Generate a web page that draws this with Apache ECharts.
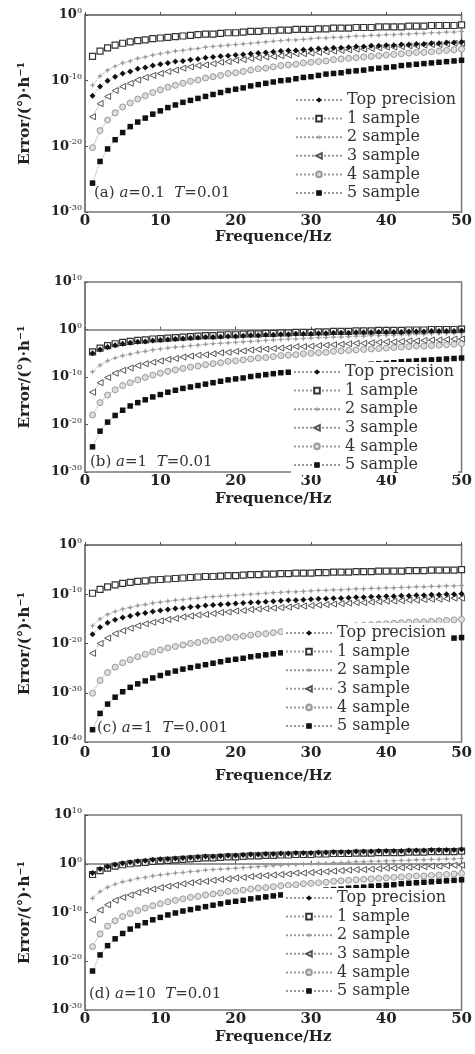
<!DOCTYPE html>
<html><head><meta charset="utf-8">
<script src="https://cdn.jsdelivr.net/npm/echarts@6/dist/echarts.min.js"></script>
<style>html,body{margin:0;padding:0;background:#fff}#c{width:475px;height:1054px}</style>
</head><body><div id="c"></div>
<script>
// Frequencies (Hz)
const FREQ = [1,2,3,4,5,6,7,8,9,10,11,12,13,14,15,16,17,18,19,20,21,22,23,24,25,26,27,28,29,30,31,32,33,34,35,36,37,38,39,40,41,42,43,44,45,46,47,48,49,50];
const SERIES_NAMES = ['Top precision','1 sample','2 sample','3 sample','4 sample','5 sample'];
// values are log10 of error

// (a) a=0.1 T=0.01
const A_TOP = [-12.3,-10.9,-10.0,-9.4,-8.9,-8.6,-8.2,-8.0,-7.7,-7.5,-7.3,-7.1,-7.0,-6.8,-6.7,-6.5,-6.4,-6.3,-6.2,-6.1,-6.0,-5.9,-5.8,-5.7,-5.6,-5.5,-5.4,-5.4,-5.3,-5.2,-5.1,-5.1,-5.0,-5.0,-4.9,-4.8,-4.8,-4.7,-4.7,-4.6,-4.6,-4.5,-4.5,-4.4,-4.4,-4.3,-4.3,-4.2,-4.2,-4.1];
const A_S1 = [-6.3,-5.5,-5.0,-4.6,-4.3,-4.1,-3.9,-3.8,-3.6,-3.5,-3.4,-3.3,-3.2,-3.1,-3.0,-2.9,-2.9,-2.8,-2.7,-2.7,-2.6,-2.5,-2.5,-2.4,-2.4,-2.3,-2.3,-2.2,-2.2,-2.2,-2.1,-2.1,-2.0,-2.0,-2.0,-1.9,-1.9,-1.9,-1.8,-1.8,-1.8,-1.8,-1.7,-1.7,-1.7,-1.6,-1.6,-1.6,-1.6,-1.5];
const A_S2 = [-10.7,-9.3,-8.4,-7.8,-7.3,-7.0,-6.6,-6.4,-6.1,-5.9,-5.7,-5.5,-5.4,-5.2,-5.1,-4.9,-4.8,-4.7,-4.6,-4.5,-4.4,-4.3,-4.2,-4.1,-4.0,-3.9,-3.8,-3.8,-3.7,-3.6,-3.5,-3.5,-3.4,-3.4,-3.3,-3.2,-3.2,-3.1,-3.1,-3.0,-3.0,-2.9,-2.9,-2.8,-2.8,-2.7,-2.7,-2.6,-2.6,-2.5];
const A_S3 = [-15.5,-13.5,-12.4,-11.5,-10.9,-10.4,-9.9,-9.5,-9.2,-8.9,-8.6,-8.4,-8.1,-7.9,-7.7,-7.6,-7.4,-7.2,-7.1,-6.9,-6.8,-6.6,-6.5,-6.4,-6.3,-6.2,-6.1,-5.9,-5.9,-5.8,-5.7,-5.6,-5.5,-5.4,-5.3,-5.2,-5.2,-5.1,-5.0,-4.9,-4.9,-4.8,-4.7,-4.7,-4.6,-4.5,-4.5,-4.4,-4.3,-4.3];
const A_S4 = [-20.2,-17.6,-16.0,-14.9,-14.0,-13.4,-12.8,-12.3,-11.8,-11.4,-11.0,-10.7,-10.4,-10.1,-9.9,-9.6,-9.4,-9.2,-8.9,-8.8,-8.6,-8.4,-8.2,-8.1,-7.9,-7.7,-7.6,-7.5,-7.3,-7.2,-7.1,-7.0,-6.8,-6.7,-6.6,-6.5,-6.4,-6.3,-6.2,-6.1,-6.0,-5.9,-5.8,-5.7,-5.7,-5.6,-5.5,-5.4,-5.3,-5.2];
const A_S5 = [-25.6,-22.3,-20.4,-19.0,-17.9,-17.0,-16.3,-15.7,-15.1,-14.6,-14.1,-13.7,-13.3,-13.0,-12.7,-12.4,-12.1,-11.8,-11.5,-11.3,-11.1,-10.8,-10.6,-10.4,-10.2,-10.0,-9.9,-9.7,-9.5,-9.4,-9.2,-9.0,-8.9,-8.8,-8.6,-8.5,-8.4,-8.2,-8.1,-8.0,-7.9,-7.7,-7.6,-7.5,-7.4,-7.3,-7.2,-7.1,-7.0,-6.9];

// (b) a=1 T=0.01
const B_TOP = [-5.0,-4.2,-3.7,-3.3,-3.0,-2.8,-2.6,-2.5,-2.3,-2.2,-2.1,-2.0,-1.9,-1.8,-1.7,-1.6,-1.6,-1.5,-1.4,-1.4,-1.3,-1.2,-1.2,-1.1,-1.1,-1.0,-1.0,-0.9,-0.9,-0.9,-0.8,-0.8,-0.7,-0.7,-0.7,-0.6,-0.6,-0.6,-0.5,-0.5,-0.5,-0.5,-0.4,-0.4,-0.4,-0.3,-0.3,-0.3,-0.3,-0.2];
const B_S1 = [-4.7,-3.9,-3.4,-3.0,-2.7,-2.5,-2.3,-2.2,-2.0,-1.9,-1.8,-1.7,-1.6,-1.5,-1.4,-1.3,-1.3,-1.2,-1.1,-1.1,-1.0,-0.9,-0.9,-0.8,-0.8,-0.7,-0.7,-0.6,-0.6,-0.6,-0.5,-0.5,-0.4,-0.4,-0.4,-0.3,-0.3,-0.3,-0.2,-0.2,-0.2,-0.2,-0.1,-0.1,-0.1,0.0,0.0,0.0,0.0,0.1];
const B_S2 = [-8.9,-7.5,-6.6,-6.0,-5.5,-5.2,-4.8,-4.6,-4.3,-4.1,-3.9,-3.7,-3.6,-3.4,-3.3,-3.1,-3.0,-2.9,-2.8,-2.7,-2.6,-2.5,-2.4,-2.3,-2.2,-2.1,-2.0,-2.0,-1.9,-1.8,-1.7,-1.7,-1.6,-1.6,-1.5,-1.4,-1.4,-1.3,-1.3,-1.2,-1.2,-1.1,-1.1,-1.0,-1.0,-0.9,-0.9,-0.8,-0.8,-0.7];
const B_S3 = [-13.2,-11.2,-10.1,-9.2,-8.6,-8.1,-7.6,-7.2,-6.9,-6.6,-6.3,-6.1,-5.8,-5.6,-5.4,-5.3,-5.1,-4.9,-4.8,-4.6,-4.5,-4.3,-4.2,-4.1,-4.0,-3.9,-3.8,-3.6,-3.6,-3.5,-3.4,-3.3,-3.2,-3.1,-3.0,-2.9,-2.9,-2.8,-2.7,-2.6,-2.6,-2.5,-2.4,-2.4,-2.3,-2.2,-2.2,-2.1,-2.0,-2.0];
const B_S4 = [-18.0,-15.4,-13.8,-12.7,-11.8,-11.2,-10.6,-10.1,-9.6,-9.2,-8.8,-8.5,-8.2,-7.9,-7.7,-7.4,-7.2,-7.0,-6.7,-6.6,-6.4,-6.2,-6.0,-5.9,-5.7,-5.5,-5.4,-5.3,-5.1,-5.0,-4.9,-4.8,-4.6,-4.5,-4.4,-4.3,-4.2,-4.1,-4.0,-3.9,-3.8,-3.7,-3.6,-3.5,-3.5,-3.4,-3.3,-3.2,-3.1,-3.0];
const B_S5 = [-24.7,-21.4,-19.5,-18.1,-17.0,-16.1,-15.4,-14.8,-14.2,-13.7,-13.2,-12.8,-12.4,-12.1,-11.8,-11.5,-11.2,-10.9,-10.6,-10.4,-10.2,-9.9,-9.7,-9.5,-9.3,-9.1,-9.0,-8.8,-8.6,-8.5,-8.3,-8.1,-8.0,-7.9,-7.7,-7.6,-7.5,-7.3,-7.2,-7.1,-7.0,-6.8,-6.7,-6.6,-6.5,-6.4,-6.3,-6.2,-6.1,-6.0];

// (c) a=1 T=0.001
const C_TOP = [-18.1,-16.7,-15.8,-15.2,-14.7,-14.4,-14.0,-13.8,-13.5,-13.3,-13.1,-12.9,-12.8,-12.6,-12.5,-12.3,-12.2,-12.1,-12.0,-11.9,-11.8,-11.7,-11.6,-11.5,-11.4,-11.3,-11.2,-11.2,-11.1,-11.0,-10.9,-10.9,-10.8,-10.8,-10.7,-10.6,-10.6,-10.5,-10.5,-10.4,-10.4,-10.3,-10.3,-10.2,-10.2,-10.1,-10.1,-10.0,-10.0,-9.9];
const C_S1 = [-9.8,-9.0,-8.5,-8.1,-7.8,-7.6,-7.4,-7.3,-7.1,-7.0,-6.9,-6.8,-6.7,-6.6,-6.5,-6.4,-6.4,-6.3,-6.2,-6.2,-6.1,-6.0,-6.0,-5.9,-5.9,-5.8,-5.8,-5.7,-5.7,-5.7,-5.6,-5.6,-5.5,-5.5,-5.5,-5.4,-5.4,-5.4,-5.3,-5.3,-5.3,-5.3,-5.2,-5.2,-5.2,-5.1,-5.1,-5.1,-5.1,-5.0];
const C_S2 = [-16.4,-15.0,-14.1,-13.5,-13.0,-12.7,-12.3,-12.1,-11.8,-11.6,-11.4,-11.2,-11.1,-10.9,-10.8,-10.6,-10.5,-10.4,-10.3,-10.2,-10.1,-10.0,-9.9,-9.8,-9.7,-9.6,-9.5,-9.5,-9.4,-9.3,-9.2,-9.2,-9.1,-9.1,-9.0,-8.9,-8.9,-8.8,-8.8,-8.7,-8.7,-8.6,-8.6,-8.5,-8.5,-8.4,-8.4,-8.3,-8.3,-8.2];
const C_S3 = [-22.0,-20.0,-18.9,-18.0,-17.4,-16.9,-16.4,-16.0,-15.7,-15.4,-15.1,-14.9,-14.6,-14.4,-14.2,-14.1,-13.9,-13.7,-13.6,-13.4,-13.3,-13.1,-13.0,-12.9,-12.8,-12.7,-12.6,-12.4,-12.4,-12.3,-12.2,-12.1,-12.0,-11.9,-11.8,-11.7,-11.7,-11.6,-11.5,-11.4,-11.4,-11.3,-11.2,-11.2,-11.1,-11.0,-11.0,-10.9,-10.8,-10.8];
const C_S4 = [-30.1,-27.5,-25.9,-24.8,-23.9,-23.3,-22.7,-22.2,-21.7,-21.3,-20.9,-20.6,-20.3,-20.0,-19.8,-19.5,-19.3,-19.1,-18.8,-18.7,-18.5,-18.3,-18.1,-18.0,-17.8,-17.6,-17.5,-17.4,-17.2,-17.1,-17.0,-16.9,-16.7,-16.6,-16.5,-16.4,-16.3,-16.2,-16.1,-16.0,-15.9,-15.8,-15.7,-15.6,-15.6,-15.5,-15.4,-15.3,-15.2,-15.1];
const C_S5 = [-37.5,-34.2,-32.3,-30.9,-29.8,-28.9,-28.2,-27.6,-27.0,-26.5,-26.0,-25.6,-25.2,-24.9,-24.6,-24.3,-24.0,-23.7,-23.4,-23.2,-23.0,-22.7,-22.5,-22.3,-22.1,-21.9,-21.8,-21.6,-21.4,-21.3,-21.1,-20.9,-20.8,-20.7,-20.5,-20.4,-20.3,-20.1,-20.0,-19.9,-19.8,-19.6,-19.5,-19.4,-19.3,-19.2,-19.1,-19.0,-18.9,-18.8];

// (d) a=10 T=0.01
const D_TOP = [-1.9,-1.1,-0.6,-0.2,0.1,0.3,0.5,0.6,0.8,0.9,1.0,1.1,1.2,1.3,1.4,1.5,1.5,1.6,1.7,1.7,1.8,1.9,1.9,2.0,2.0,2.1,2.1,2.2,2.2,2.2,2.3,2.3,2.4,2.4,2.4,2.5,2.5,2.5,2.6,2.6,2.6,2.6,2.7,2.7,2.7,2.8,2.8,2.8,2.8,2.9];
const D_S1 = [-2.2,-1.4,-0.9,-0.5,-0.2,0.0,0.2,0.3,0.5,0.6,0.7,0.8,0.9,1.0,1.1,1.2,1.2,1.3,1.4,1.4,1.5,1.6,1.6,1.7,1.7,1.8,1.8,1.9,1.9,1.9,2.0,2.0,2.1,2.1,2.1,2.2,2.2,2.2,2.3,2.3,2.3,2.3,2.4,2.4,2.4,2.5,2.5,2.5,2.5,2.6];
const D_S2 = [-7.1,-5.7,-4.8,-4.2,-3.7,-3.4,-3.0,-2.8,-2.5,-2.3,-2.1,-1.9,-1.8,-1.6,-1.5,-1.3,-1.2,-1.1,-1.0,-0.9,-0.8,-0.7,-0.6,-0.5,-0.4,-0.3,-0.2,-0.2,-0.1,0.0,0.1,0.1,0.2,0.2,0.3,0.4,0.4,0.5,0.5,0.6,0.6,0.7,0.7,0.8,0.8,0.9,0.9,1.0,1.0,1.1];
const D_S3 = [-11.5,-9.5,-8.4,-7.5,-6.9,-6.4,-5.9,-5.5,-5.2,-4.9,-4.6,-4.4,-4.1,-3.9,-3.7,-3.6,-3.4,-3.2,-3.1,-2.9,-2.8,-2.6,-2.5,-2.4,-2.3,-2.2,-2.1,-1.9,-1.9,-1.8,-1.7,-1.6,-1.5,-1.4,-1.3,-1.2,-1.2,-1.1,-1.0,-0.9,-0.9,-0.8,-0.7,-0.7,-0.6,-0.5,-0.5,-0.4,-0.3,-0.3];
const D_S4 = [-17.0,-14.4,-12.8,-11.7,-10.8,-10.2,-9.6,-9.1,-8.6,-8.2,-7.8,-7.5,-7.2,-6.9,-6.7,-6.4,-6.2,-6.0,-5.7,-5.6,-5.4,-5.2,-5.0,-4.9,-4.7,-4.5,-4.4,-4.3,-4.1,-4.0,-3.9,-3.8,-3.6,-3.5,-3.4,-3.3,-3.2,-3.1,-3.0,-2.9,-2.8,-2.7,-2.6,-2.5,-2.5,-2.4,-2.3,-2.2,-2.1,-2.0];
const D_S5 = [-22.0,-18.7,-16.8,-15.4,-14.3,-13.4,-12.7,-12.1,-11.5,-11.0,-10.5,-10.1,-9.7,-9.4,-9.1,-8.8,-8.5,-8.2,-7.9,-7.7,-7.5,-7.2,-7.0,-6.8,-6.6,-6.4,-6.3,-6.1,-5.9,-5.8,-5.6,-5.4,-5.3,-5.2,-5.0,-4.9,-4.8,-4.6,-4.5,-4.4,-4.3,-4.1,-4.0,-3.9,-3.8,-3.7,-3.6,-3.5,-3.4,-3.3];

// y-axis exponent ranges per panel
const Y_MIN = [-30, -30, -40, -30];
const Y_MAX = [0, 10, 0, 10];
const X_TICKS = [0, 10, 20, 30, 40, 50];

const PANEL_DATA = [
  [A_TOP, A_S1, A_S2, A_S3, A_S4, A_S5],
  [B_TOP, B_S1, B_S2, B_S3, B_S4, B_S5],
  [C_TOP, C_S1, C_S2, C_S3, C_S4, C_S5],
  [D_TOP, D_S1, D_S2, D_S3, D_S4, D_S5]
];
const PANEL_LABELS = [
  '(a) {i|a}=0.1  {i|T}=0.01',
  '(b) {i|a}=1  {i|T}=0.01',
  '(c) {i|a}=1  {i|T}=0.001',
  '(d) {i|a}=10  {i|T}=0.01'
];

// ---- layout / style ----
const FONT = 'DejaVu Serif';
const TXT = '#222';
const GRID_POS = [
  {top: 15, height: 197}, {top: 282, height: 190},
  {top: 545, height: 197}, {top: 815, height: 195}
];
const LEGEND_POS = [{left: 293, top: 90}, {left: 291, top: 362}, {left: 283, top: 623}, {left: 283, top: 888}];
const NAME_GAP = [18, 20, 27, 20];
const LABEL_MARGIN = [2, 2, 4, 2];
const ANN_POS = [[94, 193], [90, 462], [97, 728], [89, 994]];

const STAR = 'path://M0,-5 L1.4,-1.4 L5,0 L1.4,1.4 L0,5 L-1.4,1.4 L-5,0 L-1.4,-1.4 Z';
const STYLES = [
  {symbol: 'diamond', symbolSize: 6, itemStyle: {color: '#111'}},
  {symbol: 'rect', symbolSize: 6, itemStyle: {color: '#fff', borderColor: '#333', borderWidth: 1.2}},
  {symbol: STAR, symbolSize: 6, itemStyle: {color: '#9a9a9a'}},
  {symbol: 'triangle', symbolSize: 6, symbolRotate: 90, itemStyle: {color: '#fff', borderColor: '#555', borderWidth: 1}},
  {symbol: 'circle', symbolSize: 6, itemStyle: {color: '#ddd', borderColor: '#999', borderWidth: 1}},
  {symbol: 'rect', symbolSize: 5.5, itemStyle: {color: '#111'}}
];

const grid = [], xAxis = [], yAxis = [], series = [], legend = [], graphic = [];
for (let p = 0; p < 4; p++) {
  grid.push({left: 85, right: 13, top: GRID_POS[p].top, height: GRID_POS[p].height,
    show: true, borderColor: '#777', borderWidth: 1.5});
  xAxis.push({
    gridIndex: p, type: 'value', min: X_TICKS[0], max: X_TICKS[X_TICKS.length - 1], interval: 10,
    name: 'Frequence/Hz', nameLocation: 'middle', nameGap: NAME_GAP[p],
    nameTextStyle: {fontFamily: FONT, fontSize: 15, fontWeight: 'bold', color: TXT},
    axisLine: {show: true, lineStyle: {color: '#777', width: 1.5}},
    axisTick: {show: true, inside: true, length: 3, lineStyle: {color: '#555'}},
    axisLabel: {margin: LABEL_MARGIN[p], fontFamily: FONT, fontSize: 15, fontWeight: 'bold', color: TXT},
    splitLine: {show: false}
  });
  yAxis.push({
    gridIndex: p, type: 'value', min: Y_MIN[p], max: Y_MAX[p], interval: 10,
    name: 'Error/(°)·h⁻¹', nameLocation: 'middle', nameGap: 52, nameRotate: 90,
    nameTextStyle: {fontFamily: FONT, fontSize: 15, fontWeight: 'bold', color: TXT},
    axisLine: {show: true, lineStyle: {color: '#777', width: 1.5}},
    axisTick: {show: true, inside: true, length: 3, lineStyle: {color: '#555'}},
    axisLabel: {
      margin: 3,
      formatter: v => '{b|10}{s|' + v + '}',
      rich: {
        b: {fontFamily: FONT, fontSize: 13, fontWeight: 'bold', color: TXT, lineHeight: 16},
        s: {fontFamily: FONT, fontSize: 8, color: TXT, verticalAlign: 'top', lineHeight: 8}
      }
    },
    splitLine: {show: false}
  });
  for (let s = 0; s < 6; s++) {
    const vals = PANEL_DATA[p][s];
    series.push(Object.assign({
      name: SERIES_NAMES[s], type: 'line', xAxisIndex: p, yAxisIndex: p,
      data: FREQ.map((f, i) => [f, vals[i]]),
      showAllSymbol: true,
      lineStyle: {type: 'dotted', width: 1, color: '#999'},
      z: 2 + (6 - s) * 0.01
    }, JSON.parse(JSON.stringify(STYLES[s]))));
  }
  legend.push({
    left: LEGEND_POS[p].left, top: LEGEND_POS[p].top, orient: 'vertical',
    data: SERIES_NAMES, itemWidth: 46, itemHeight: 7, itemGap: 2.6, itemTextGap: 5,
    backgroundColor: '#fff', padding: [2, 4, 2, 2], selectedMode: false,
    textStyle: {fontFamily: FONT, fontSize: 16, color: '#333', lineHeight: 16}
  });
  graphic.push({
    type: 'text', x: ANN_POS[p][0], y: ANN_POS[p][1], z: 10,
    style: {
      text: PANEL_LABELS[p], fontFamily: FONT, fontSize: 15, fill: '#333', verticalAlign: 'middle',
      rich: {i: {fontFamily: FONT, fontSize: 15, fontStyle: 'italic', color: '#333'}}
    }
  });
}

const chart = echarts.init(document.getElementById('c'), null, {renderer: 'canvas'});
chart.setOption({animation: false, backgroundColor: '#fff', grid, xAxis, yAxis, series, legend, graphic});
</script></body></html>
